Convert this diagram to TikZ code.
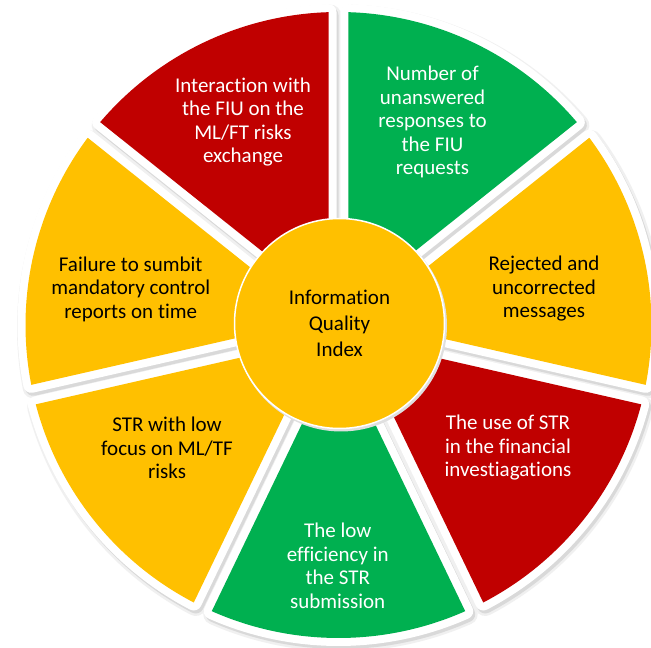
\documentclass[tikz,border=0pt]{standalone}
\usepackage{fontspec}
\setmainfont{Carlito}[Ligatures=NoCommon]
\definecolor{cred}{HTML}{C00000}
\definecolor{cgreen}{HTML}{00B050}
\definecolor{cgold}{HTML}{FFC000}
\newcommand{\secpath}[2]{({(#1+#2)/2}:23pt) -- ({#1+1.831}:313pt) arc[start angle={#1+1.831}, end angle={#2-1.831}, radius=313pt] -- cycle}
\tikzset{
  seglabel/.style={align=center, inner sep=0pt, font=\fontsize{21}{23.5}\selectfont},
  onlight/.style={seglabel, text=black},
  ondark/.style={seglabel, text=white},
}
\begin{document}
\begin{tikzpicture}
\useasboundingbox (0pt,0pt) rectangle (651pt,648pt);
\clip (0pt,0pt) rectangle (651pt,648pt);
\fill[white] (0pt,0pt) rectangle (651pt,648pt);
\begin{scope}[shift={(338.5pt,323pt)}]
  % shadows
  \begin{scope}[shift={(2pt,-3pt)}]
    \foreach \s/\e in {38.571/90, 90/141.429, 141.429/192.857, 192.857/244.286, 244.286/295.714, 295.714/347.143, 347.143/398.571}{
      \path[fill=gray!12, draw=gray!12, line width=21pt, line join=round] \secpath{\s}{\e};
      \path[fill=gray!30, draw=gray!30, line width=16pt, line join=round] \secpath{\s}{\e};
    }
  \end{scope}
  % sectors
  \foreach \s/\e/\c in {38.571/90/cgreen, 90/141.429/cred, 141.429/192.857/cgold, 192.857/244.286/cgold, 244.286/295.714/cgreen, 295.714/347.143/cred, 347.143/398.571/cgold}{
    \path[draw=white, line width=16pt, line join=round] \secpath{\s}{\e};
    \path[fill=\c] \secpath{\s}{\e};
  }
\end{scope}
% centre circle
\fill[gray!25] (341pt,322.5pt) circle[radius=106pt];
\node[circle, fill=cgold, draw=white, line width=1.5pt, minimum size=210pt, inner sep=0pt,
      align=center, font=\fontsize{21}{26}\selectfont] (hub) at (339.5pt,324.5pt)
      {Information\\Quality\\Index};
% labels
\node[ondark]  (unanswered) at (432.5pt,526pt) {Number of\\unanswered\\responses to\\the FIU\\requests};
\node[ondark]  (interaction) at (243pt,526pt) {Interaction with\\the FIU on the\\ML/FT risks\\exchange};
\node[onlight] (failure) at (130.7pt,359pt) {Failure to sumbit\\mandatory control\\reports on time};
\node[onlight] (rejected) at (544pt,359pt) {Rejected and\\uncorrected\\messages};
\node[ondark]  (usestr) at (508pt,200pt) {The use of STR\\in the financial\\investiagations};
\node[ondark]  (lowefficiency) at (337.7pt,82pt) {The low\\efficiency in\\the STR\\submission};
\node[onlight] (lowfocus) at (167pt,200pt) {STR with low\\focus on ML/TF\\risks};
\end{tikzpicture}
\end{document}
